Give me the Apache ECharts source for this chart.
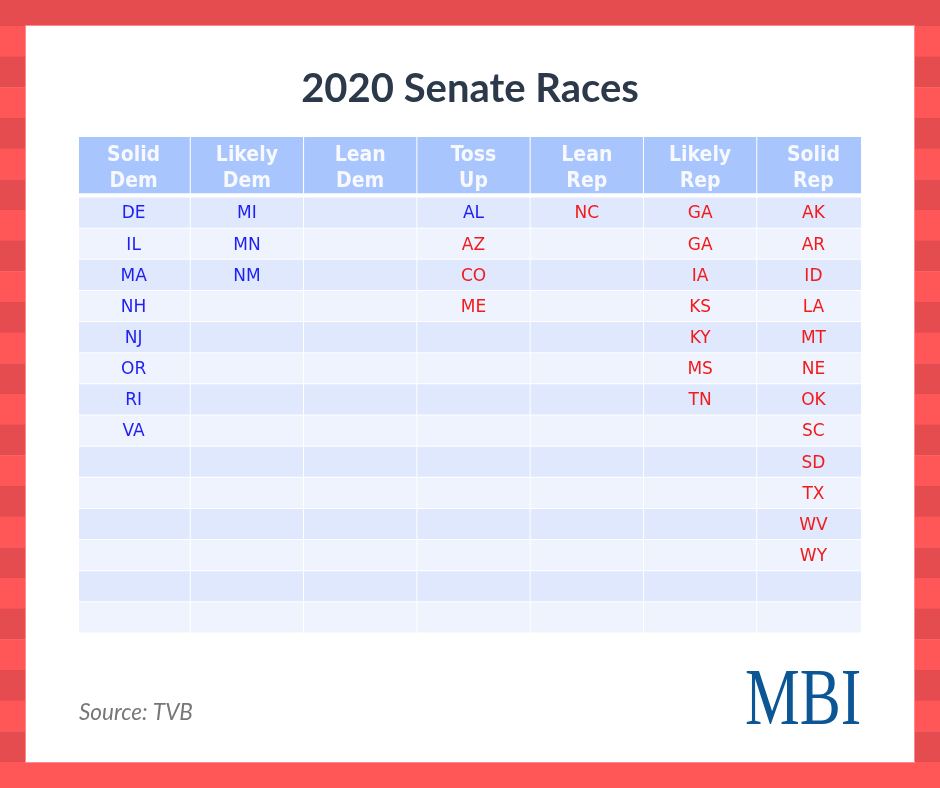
<!DOCTYPE html>
<html><head><meta charset="utf-8">
<script src="https://cdn.jsdelivr.net/npm/echarts@6/dist/echarts.min.js"></script>
<style>html,body{margin:0;padding:0;background:#fff}#c{width:940px;height:788px}</style>
</head><body><div id="c"></div>
<script>
// ---- data ----
const titleText = '2020 Senate Races';
const sourceText = 'Source: TVB';
const logoText = 'MBI';
const columns = ['Solid Dem', 'Likely Dem', 'Lean Dem', 'Toss Up', 'Lean Rep', 'Likely Rep', 'Solid Rep'];
const solidDem = ['DE', 'IL', 'MA', 'NH', 'NJ', 'OR', 'RI', 'VA'];
const likelyDem = ['MI', 'MN', 'NM'];
const leanDem = [];
const tossUp = ['AL', 'AZ', 'CO', 'ME'];
const leanRep = ['NC'];
const likelyRep = ['GA', 'GA', 'IA', 'KS', 'KY', 'MS', 'TN'];
const solidRep = ['AK', 'AR', 'ID', 'LA', 'MT', 'NE', 'OK', 'SC', 'SD', 'TX', 'WV', 'WY'];
const demHeld = ['DE', 'IL', 'MA', 'NH', 'NJ', 'OR', 'RI', 'VA', 'MI', 'MN', 'NM', 'AL'];
const rowCount = 14;

// ---- build ----
const columnStates = [solidDem, likelyDem, leanDem, tossUp, leanRep, likelyRep, solidRep];
const rowLabels = Array.from({length: rowCount}, (_, i) => String(i));
const bodyCells = [];
columnStates.forEach((list, c) => {
  for (let r = 0; r < rowCount; r++) {
    const st = list[r] || '';
    bodyCells.push({c, r, state: st, dem: demHeld.includes(st)});
  }
});
const headerCells = columns.map((name, c) => ({c, label: name.split(' ').join('\n')}));

const BLUE = '#1f1ff2', RED = '#f21a1a';
const HEADER_BG = '#a9c5fd', ROW_A = '#dfe8fc', ROW_B = '#eef3fd';
const FONT_TABLE = '"DejaVu Sans", Verdana, sans-serif';
const FONT_HEAD = '"DejaVu Sans Condensed", "DejaVu Sans", sans-serif';

function renderBody(params, api) {
  const cell = bodyCells[params.dataIndex];
  const ctr = api.coord([cell.c, cell.r]);
  const sz = api.size([1, 1]);
  const w = sz[0], h = sz[1];
  return {type: 'group', children: [
    {type: 'rect', shape: {x: ctr[0] - w / 2 + 0.5, y: ctr[1] - h / 2 + 0.5, width: w - 1, height: h - 1},
     style: {fill: cell.r % 2 === 0 ? ROW_A : ROW_B}},
    {type: 'text', style: {text: cell.state, x: ctr[0], y: ctr[1] + 1.5, align: 'center', verticalAlign: 'middle',
      fill: cell.dem ? BLUE : RED, fontSize: 17, fontFamily: FONT_TABLE}}
  ]};
}
function renderHeader(params, api) {
  const cell = headerCells[params.dataIndex];
  const ctr = api.coord([cell.c, 0]);
  const sz = api.size([1, 1]);
  const w = sz[0], h = sz[1];
  return {type: 'group', children: [
    {type: 'rect', shape: {x: ctr[0] - w / 2 + 0.5, y: ctr[1] - h / 2, width: w - 1, height: h},
     style: {fill: HEADER_BG}},
    {type: 'text', style: {text: cell.label, x: ctr[0], y: ctr[1] + 3, align: 'center', verticalAlign: 'middle',
      fill: '#f7f9ff', fontSize: 21, fontWeight: 'bold', lineHeight: 26, fontFamily: FONT_HEAD}}
  ]};
}

// decorative frame
const graphics = [];
graphics.push({type: 'rect', shape: {x: 0, y: 0, width: 940, height: 26}, style: {fill: '#e44c50'}, z: -10});
const stripeH = 736 / 24;
for (let k = 0; k < 24; k++) {
  const fill = k % 2 ? '#e44c50' : '#ff5657';
  graphics.push({type: 'rect', shape: {x: 0, y: 26 + k * stripeH, width: 26, height: stripeH + 0.4}, style: {fill}, z: -10});
  graphics.push({type: 'rect', shape: {x: 914, y: 26 + k * stripeH, width: 26, height: stripeH + 0.4}, style: {fill}, z: -10});
}
graphics.push({type: 'rect', shape: {x: 0, y: 762, width: 940, height: 26}, style: {fill: '#ff5657'}, z: -10});
graphics.push({type: 'rect', shape: {x: 25.5, y: 25.5, width: 889, height: 737}, style: {fill: '#fff', stroke: '#ff8a8c', lineWidth: 1}, z: -9});
graphics.push({type: 'text', x: 79, y: 713, style: {text: sourceText, x: 0, y: 0, verticalAlign: 'middle', fill: '#777777',
  font: 'italic 22.5px Lato, sans-serif'}, z: 5});
graphics.push({type: 'text', x: 745, y: 703, scaleX: 0.77, style: {text: logoText, x: 0, y: 0, verticalAlign: 'middle', fill: '#0c5696',
  font: 'normal 80px "Liberation Serif", serif'}, z: 5});

const xAxisCfg = (gi) => ({type: 'value', gridIndex: gi, min: -0.482, max: 6.42, show: false, splitLine: {show: false}});

const option = {
  backgroundColor: '#ffffff',
  animation: false,
  title: {text: titleText, left: 'center', top: 64,
    textStyle: {fontFamily: 'Lato, sans-serif', fontWeight: 'bold', fontSize: 40, color: '#2c394b'}},
  graphic: graphics,
  grid: [
    {left: 79, width: 782, top: 137, height: 56.5},
    {left: 79, width: 782, top: 197, height: 436}
  ],
  xAxis: [xAxisCfg(0), xAxisCfg(1)],
  yAxis: [
    {type: 'category', gridIndex: 0, data: ['h'], show: false},
    {type: 'category', gridIndex: 1, data: rowLabels, inverse: true, show: false}
  ],
  series: [
    {type: 'custom', xAxisIndex: 0, yAxisIndex: 0, clip: true, renderItem: renderHeader,
     data: headerCells.map(d => [d.c, 0]), encode: {x: 0, y: 1}, silent: true},
    {type: 'custom', xAxisIndex: 1, yAxisIndex: 1, clip: true, renderItem: renderBody,
     data: bodyCells.map(d => [d.c, d.r]), encode: {x: 0, y: 1}, silent: true}
  ]
};
const chart = echarts.init(document.getElementById('c'));
chart.setOption(option);
</script></body></html>
